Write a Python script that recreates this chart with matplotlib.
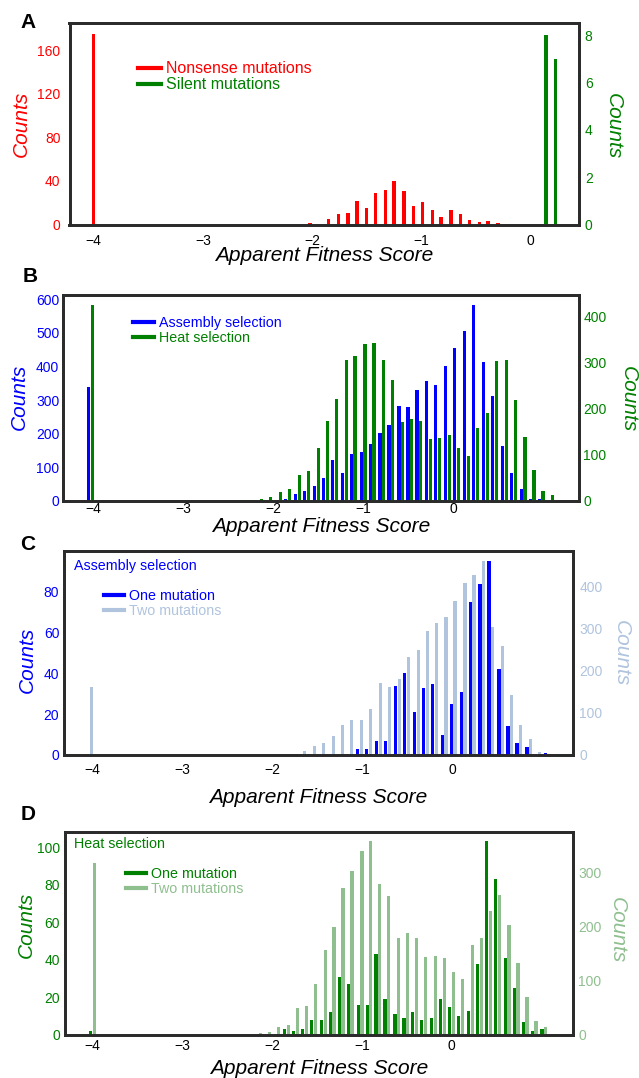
import numpy as np
import matplotlib
matplotlib.use('Agg')
import matplotlib.pyplot as plt
from matplotlib.lines import Line2D

plt.rcParams['font.family'] = ['Liberation Sans', 'DejaVu Sans']

# ---- Panel A: nonsense vs silent mutations ----
nonsense_x = [-4.0, -2.02, -1.85, -1.76, -1.67, -1.59, -1.50, -1.42, -1.33, -1.25, -1.16,
              -1.07, -0.99, -0.90, -0.82, -0.73, -0.64, -0.56, -0.47, -0.39, -0.30]
nonsense_counts = [175, 1, 5, 10, 11, 22, 15, 29, 32, 40, 31,
                   17, 21, 13, 7, 13, 10, 4, 2, 3, 1]
silent_x = [0.14, 0.23]
silent_counts = [8, 7]

# ---- Panel B: assembly vs heat selection ----
b_bins = [-4.03, -2.47, -2.36, -2.26, -2.15, -2.05, -1.94, -1.84, -1.73, -1.63, -1.52,
          -1.42, -1.32, -1.21, -1.11, -1.00, -0.90, -0.79, -0.69, -0.58, -0.48, -0.38,
          -0.27, -0.17, -0.06, 0.04, 0.15, 0.25, 0.36, 0.46, 0.57, 0.67, 0.78, 0.88,
          0.98, 1.09]
b_assembly = [340, 0, 0, 0, 0, 0, 2, 6, 19, 29, 43, 68, 121, 83, 138, 145, 168, 201,
              225, 282, 280, 331, 358, 344, 402, 456, 506, 583, 414, 311, 162, 82, 36,
              6, 4, 0]
b_heat = [425, 2, 2, 2, 4, 7, 18, 26, 56, 64, 114, 172, 220, 306, 314, 339, 343, 306,
          262, 171, 178, 172, 133, 136, 142, 115, 97, 157, 190, 303, 306, 218, 139,
          66, 20, 13]

# ---- Panel C: assembly selection, one vs two mutations ----
c_bins = [-4.03, -1.97, -1.87, -1.76, -1.66, -1.55, -1.45, -1.34, -1.24, -1.14, -1.03,
          -0.93, -0.82, -0.72, -0.61, -0.51, -0.40, -0.30, -0.20, -0.09, 0.01, 0.12,
          0.22, 0.33, 0.43, 0.54, 0.64, 0.74, 0.85, 0.95, 1.06]
c_one = [0, 0, 0, 0, 0, 0, 0, 0, 0, 0, 3, 3, 7, 7, 34, 40, 21, 33, 35, 10, 25, 31,
         75, 84, 95, 42, 14, 6, 4, 0, 1]
c_two = [160, 2, 2, 3, 9, 21, 29, 46, 71, 82, 82, 109, 171, 161, 181, 231, 248, 293,
         313, 326, 365, 407, 425, 460, 303, 257, 143, 71, 37, 6, 3]

# ---- Panel D: heat selection, one vs two mutations ----
d_bins = [-4.00, -2.36, -2.25, -2.15, -2.05, -1.95, -1.84, -1.74, -1.64, -1.54, -1.43,
          -1.33, -1.23, -1.13, -1.02, -0.92, -0.82, -0.72, -0.61, -0.51, -0.41, -0.31,
          -0.20, -0.10, 0.00, 0.10, 0.21, 0.31, 0.41, 0.51, 0.62, 0.72, 0.82, 0.92, 1.03]
d_one = [2, 0, 0, 0, 0, 0, 3, 2, 3, 8, 8, 12, 31, 27, 16, 16, 43, 19, 11, 9, 12, 8, 9,
         19, 15, 10, 13, 38, 103, 83, 41, 25, 7, 2, 3]
d_two = [319, 2, 2, 4, 6, 14, 18, 50, 54, 94, 158, 199, 272, 304, 340, 358, 280, 258,
         179, 189, 179, 144, 147, 142, 117, 103, 166, 179, 230, 259, 204, 133, 70, 25, 14]

RED, GREEN, BLUE = '#ff0000', '#008000', '#0000ff'
LBLUE, LGREEN = '#b0c4de', '#8fbf8f'
SPINE = '#2b2b2b'
xticks = [-4, -3, -2, -1, 0]

W, H = 639, 1078
fig = plt.figure(figsize=(W / 100, H / 100), dpi=100)


def box(l, r, t, b):
    return [l / W, 1 - b / H, (r - l) / W, (b - t) / H]


def setup(rect, xlim, ylim1, ylim2, yt1, yt2, c1, c2, xpad, lpad, rpad,
          lab1, lab2, xlab_y):
    ax = fig.add_axes(rect)
    ax2 = ax.twinx()
    for a in (ax, ax2):
        for s in a.spines.values():
            s.set_linewidth(2.0)
            s.set_color(SPINE)
    ax.set_xlim(*xlim)
    ax.set_ylim(*ylim1)
    ax2.set_ylim(*ylim2)
    ax.set_xticks(xticks)
    ax.set_yticks(yt1)
    ax2.set_yticks(yt2)
    ax.tick_params(axis='x', length=0, labelsize=10, pad=xpad)
    ax.tick_params(axis='y', length=0, labelsize=10, labelcolor=c1, pad=lpad)
    ax2.tick_params(axis='y', length=0, labelsize=10, labelcolor=c2, pad=rpad)
    ax.set_ylabel('Counts', color=c1, fontsize=15, style='italic', va='center', ha='center')
    ax.yaxis.set_label_coords(*lab1)
    ax2.set_ylabel('Counts', color=c2, fontsize=15, style='italic', rotation=270,
                   va='center', ha='center')
    ax2.yaxis.set_label_coords(*lab2)
    ax.set_xlabel('Apparent Fitness Score', fontsize=15, style='italic', va='center')
    ax.xaxis.set_label_coords(0.5, xlab_y)
    return ax, ax2


def legend(ax, labels, colors, anchor, fs):
    handles = [Line2D([], [], color=c, lw=3) for c in colors]
    leg = ax.legend(handles, labels, loc='upper left', bbox_to_anchor=anchor,
                    frameon=False, fontsize=fs, handlelength=1.4, handletextpad=0.35,
                    labelspacing=0.08, borderpad=0, borderaxespad=0,
                    labelcolor='linecolor')
    return leg


off, bw = 0.021, 0.036

# Panel A
ax, ax2 = setup(box(69.5, 579.3, 23.3, 224.5), (-4.22, 0.445), (0, 185), (0, 8.5),
                [0, 40, 80, 120, 160], [0, 2, 4, 6, 8], RED, GREEN,
                6.5, 6.5, 4, (-0.095, 0.5), (1.066, 0.49), -0.155)
ax.bar(nonsense_x, nonsense_counts, width=0.032, color=RED, linewidth=0)
ax2.bar(silent_x, silent_counts, width=0.03, color=GREEN, linewidth=0)
legend(ax2, ['Nonsense mutations', 'Silent mutations'], [RED, GREEN], (0.135, 0.812), 11.5)

# Panel B
ax, ax2 = setup(box(62.7, 579.3, 295, 500.7), (-4.342, 1.405), (0, 613), (0, 446),
                [0, 100, 200, 300, 400, 500, 600], [0, 100, 200, 300, 400], BLUE, GREEN,
                1.2, 2.5, 3, (-0.084, 0.504), (1.094, 0.494), -0.124)
ax.bar(np.array(b_bins) - off, b_assembly, width=bw, color=BLUE, linewidth=0)
ax2.bar(np.array(b_bins) + off, b_heat, width=bw, color=GREEN, linewidth=0)
legend(ax2, ['Assembly selection', 'Heat selection'], [BLUE, GREEN], (0.137, 0.897), 10.3)

# Panel C
ax, ax2 = setup(box(64.3, 572.7, 551, 755), (-4.31, 1.338), (0, 100), (0, 483),
                [0, 20, 40, 60, 80], [0, 100, 200, 300, 400], BLUE, LBLUE,
                5.5, 3.6, 4.7, (-0.073, 0.466), (1.095, 0.5), -0.208)
ax.bar(np.array(c_bins) - off, c_one, width=bw, color=BLUE, linewidth=0)
ax2.bar(np.array(c_bins) + off, c_two, width=bw, color=LBLUE, linewidth=0)
ax.set_zorder(ax2.get_zorder() + 1)
ax.patch.set_visible(False)
ax.text(0.019, 0.925, 'Assembly selection', transform=ax.transAxes, color=BLUE,
        fontsize=10.3, va='center', ha='left')
legend(ax, ['One mutation', 'Two mutations'], [BLUE, LBLUE], (0.078, 0.813), 10.3)

# Panel D
ax, ax2 = setup(box(65.2, 572.7, 831.7, 1035), (-4.307, 1.351), (0, 108.2), (0, 376),
                [0, 20, 40, 60, 80, 100], [0, 100, 200, 300], GREEN, LGREEN,
                2.6, 3.6, 4.0, (-0.077, 0.541), (1.087, 0.516), -0.165)
ax.bar(np.array(d_bins) - off, d_one, width=bw, color=GREEN, linewidth=0)
ax2.bar(np.array(d_bins) + off, d_two, width=bw, color=LGREEN, linewidth=0)
ax.set_zorder(ax2.get_zorder() + 1)
ax.patch.set_visible(False)
ax.text(0.017, 0.94, 'Heat selection', transform=ax.transAxes, color=GREEN,
        fontsize=10.3, va='center', ha='left')
legend(ax, ['One mutation', 'Two mutations'], [GREEN, LGREEN], (0.120, 0.825), 10.3)

# panel letters
for letter, (px, py) in zip('ABCD', [(28, 22), (30, 277), (28, 544), (28, 815)]):
    fig.text(px / W, 1 - py / H, letter, fontsize=15, fontweight='bold',
             ha='center', va='center')

fig.savefig('out.png', dpi=100)
